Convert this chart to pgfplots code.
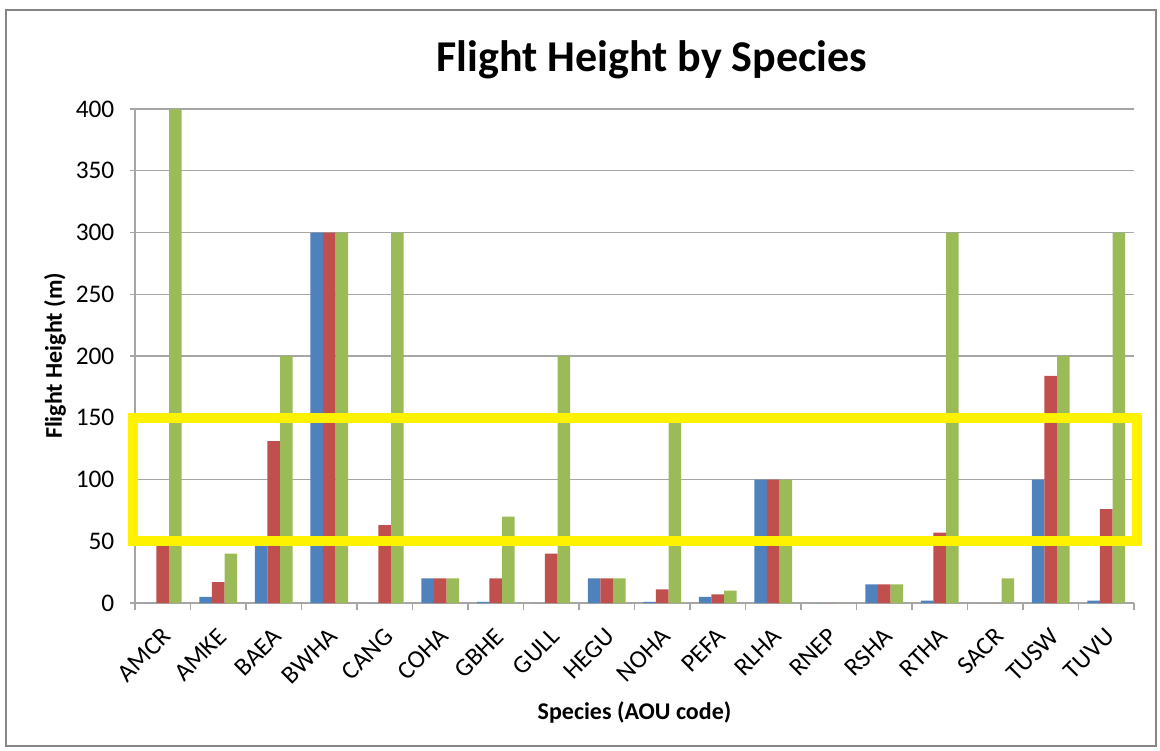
\documentclass[border=0pt]{standalone}
\usepackage{pgfplots}
\pgfplotsset{compat=1.18}
\usepackage{fontspec}
\setmainfont{Carlito}
\definecolor{sblue}{HTML}{4F81BD}
\definecolor{sred}{HTML}{C0504D}
\definecolor{sgreen}{HTML}{9BBB59}
\definecolor{gridgray}{HTML}{A6A6A6}
\definecolor{framegray}{HTML}{868686}
\begin{document}
\begin{tikzpicture}[x=0.75pt,y=0.75pt]
\path[use as bounding box] (0,0) rectangle (1160,750);
\draw[color=framegray, line width=1.2pt] (6,4) rectangle (1156,740);
\begin{axis}[
  at={(101.25pt,110.25pt)}, anchor=south west,
  width=749.25pt, height=370.5pt, scale only axis,
  xmin=-0.5, xmax=17.5, ymin=0, ymax=400,
  ybar=0pt, bar width=9.4pt,
  axis lines*=left,
  axis line style={gridgray, line width=0.8pt},
  ytick={0,50,...,400},
  ymajorgrids, grid style={gridgray, line width=0.8pt},
  xtick={0,...,17},
  xticklabels={AMCR,AMKE,BAEA,BWHA,CANG,COHA,GBHE,GULL,HEGU,NOHA,PEFA,RLHA,RNEP,RSHA,RTHA,SACR,TUSW,TUVU},
  major x tick style={draw=none},
  extra x ticks={-0.5,0.5,...,17.5},
  extra x tick labels={},
  extra x tick style={grid=none, major tick length=5pt, tick align=outside, major x tick style={draw=gridgray, line width=0.8pt}},
  tick align=outside,
  major tick length=4pt,
  y tick style={gridgray, line width=0.8pt},
  every tick label/.append style={font=\fontsize{19}{22}\selectfont},
  xticklabel style={anchor=east, inner sep=0pt, xshift=3pt, yshift=-18pt, rotate=45},
  yticklabel style={xshift=-8pt},
  /pgf/number format/assume math mode=true,
  xlabel={Species (AOU code)},
  ylabel={Flight Height (m)},
  xlabel style={font=\fontsize{18}{21}\selectfont\bfseries, at={(axis description cs:0.5,0)}, yshift=-82pt, anchor=center},
  ylabel style={font=\fontsize{18}{21}\selectfont\bfseries, at={(axis description cs:-0.08,0.5)}, anchor=center},
  clip=false,
]
\addplot[fill=sblue, draw=none] coordinates {
(0,0) (1,5) (2,50) (3,300) (4,0) (5,20) (6,1) (7,0) (8,20) (9,1) (10,5) (11,100) (12,0) (13,15) (14,2) (15,0) (16,100) (17,2)};
\addplot[fill=sred, draw=none] coordinates {
(0,50) (1,17) (2,131) (3,300) (4,63) (5,20) (6,20) (7,40) (8,20) (9,11) (10,7) (11,100) (12,0) (13,15) (14,57) (15,0) (16,184) (17,76)};
\addplot[fill=sgreen, draw=none] coordinates {
(0,400) (1,40) (2,200) (3,300) (4,300) (5,20) (6,70) (7,200) (8,20) (9,150) (10,10) (11,100) (12,0) (13,15) (14,300) (15,20) (16,200) (17,300)};
\draw[yellow, line width=7.5pt] (axis cs:-0.54,50) rectangle (axis cs:17.55,150);
\end{axis}
\node[font=\fontsize{33}{38}\selectfont\bfseries] at (652,690) {Flight Height by Species};
\end{tikzpicture}
\end{document}
